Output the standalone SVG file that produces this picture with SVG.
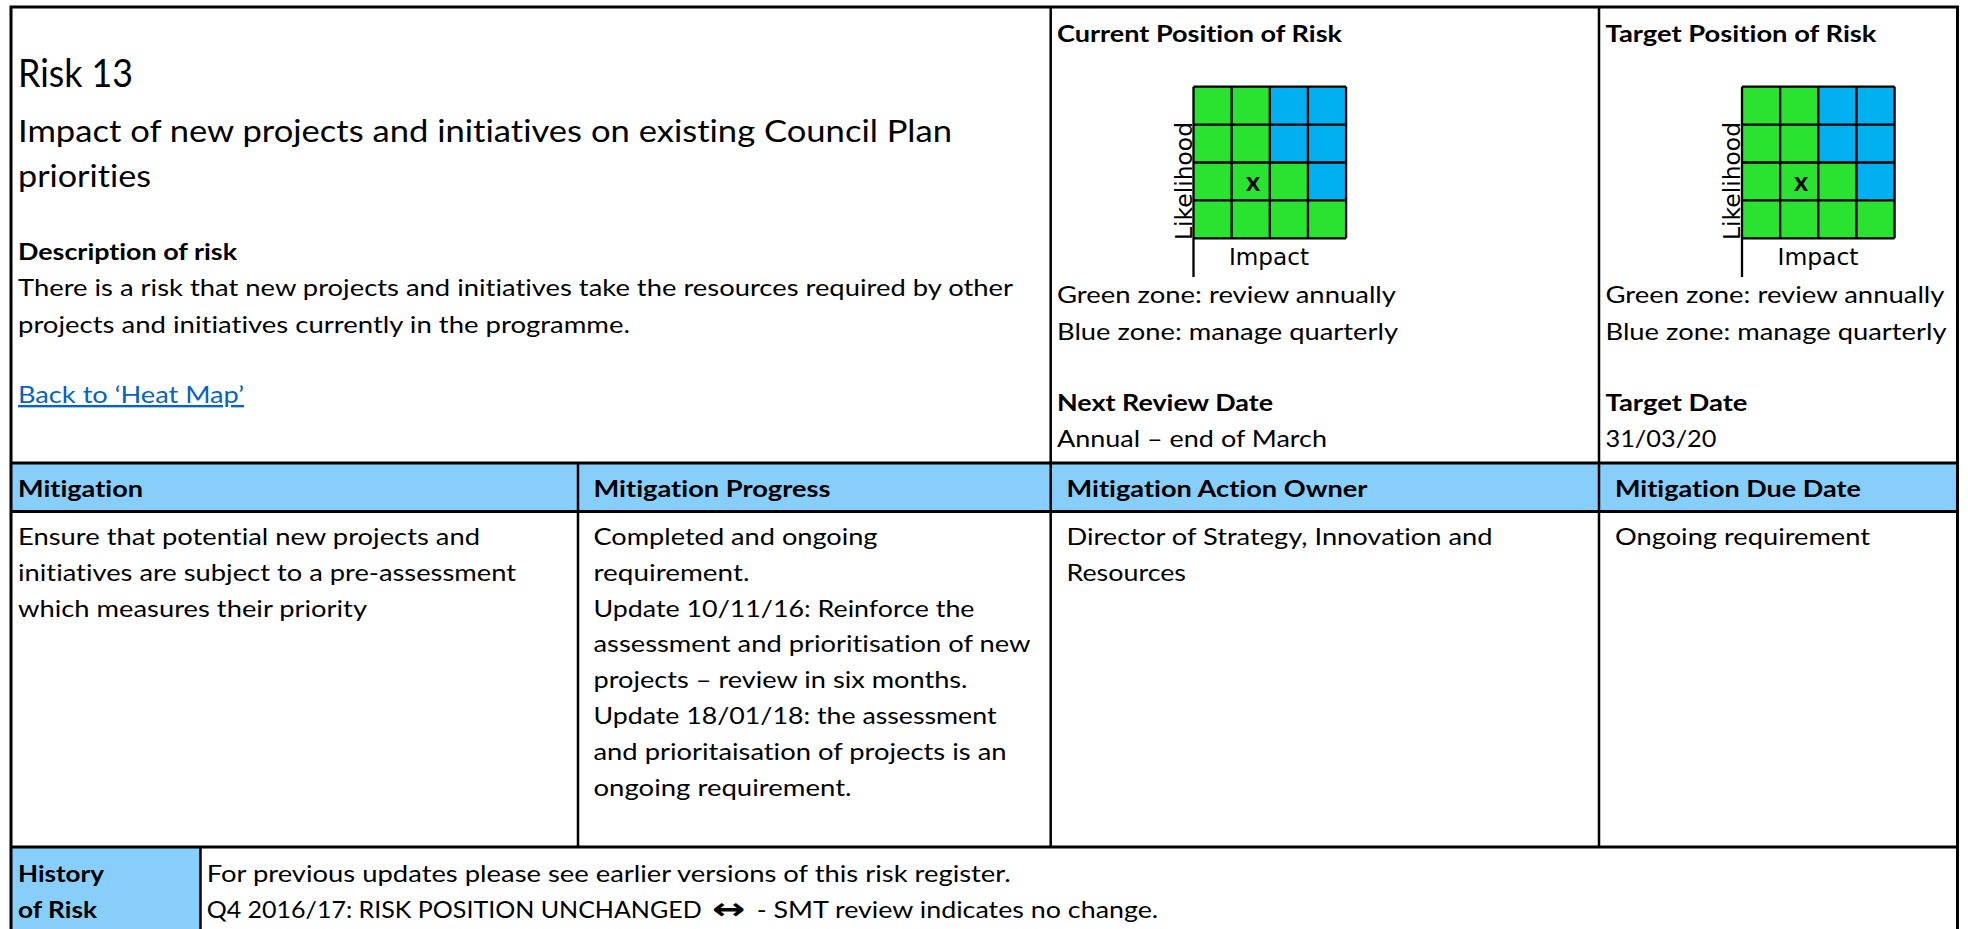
<svg xmlns="http://www.w3.org/2000/svg" width="1968" height="929" viewBox="0 0 1968 929">
<style>
.t{font-family:Lato,"Open Sans","DejaVu Sans",sans-serif;font-size:23.5px;fill:#000;font-variant-ligatures:none}
.b{font-weight:bold}
.h{font-size:31.5px}
.r{font-size:39px}
.mx{font-size:27px}
.lnk{fill:#0563C1;text-decoration:underline}
.ax{font-family:"DejaVu Sans",sans-serif;font-size:23px;fill:#000}
.arr{font-family:"DejaVu Sans",sans-serif;font-size:30px;font-weight:bold;fill:#000}
.g{fill:#29E330}
.bl{fill:#00B0F0}
.hdr{fill:#87CEFA}
.gl{stroke:#000;stroke-width:2.3;fill:none}
.bd{stroke:#000;stroke-width:3;fill:none}
.dv{stroke:#000;stroke-width:2.5;fill:none}
</style>
<rect x="0" y="0" width="1968" height="929" fill="#fff"/>

<g id="fills">
<rect class="hdr" x="11" y="463" width="1946.5" height="48.5"/>
<rect class="hdr" x="11" y="847" width="189.5" height="90"/>
</g>

<g id="title-cell">
<text class="t r" x="18" y="87.3" textLength="115" lengthAdjust="spacingAndGlyphs">Risk 13</text>
<text class="t h" x="18" y="141.7" textLength="934" lengthAdjust="spacingAndGlyphs">Impact of new projects and initiatives on existing Council Plan</text>
<text class="t h" x="18" y="186.7" textLength="133" lengthAdjust="spacingAndGlyphs">priorities</text>
<text class="t b" x="18" y="260" textLength="219" lengthAdjust="spacingAndGlyphs">Description of risk</text>
<text class="t" x="18" y="296" textLength="995" lengthAdjust="spacingAndGlyphs">There is a risk that new projects and initiatives take the resources required by other</text>
<text class="t" x="18" y="332.5" textLength="612" lengthAdjust="spacingAndGlyphs">projects and initiatives currently in the programme.</text>
<text class="t lnk" x="18" y="403" textLength="226" lengthAdjust="spacingAndGlyphs">Back to ‘Heat Map’</text>
</g>

<g id="current-position">
<text class="t b" x="1057" y="41.7" textLength="285" lengthAdjust="spacingAndGlyphs">Current Position of Risk</text>
<rect class="g" x="1193.5" y="86.7" width="152.6" height="151.6"/>
<rect class="bl" x="1269.8" y="86.7" width="76.3" height="75.8"/>
<rect class="bl" x="1307.95" y="162.5" width="38.15" height="37.9"/>
<path class="gl" d="M1193.5 86.7V238.3M1231.65 86.7V238.3M1269.8 86.7V238.3M1307.95 86.7V238.3M1346.1 86.7V238.3M1193.5 86.7H1346.1M1193.5 124.6H1346.1M1193.5 162.5H1346.1M1193.5 200.4H1346.1M1193.5 238.3H1346.1M1193.5 238.3V277"/>
<text class="t b mx" x="1253" y="191" text-anchor="middle">x</text>
<text class="ax" transform="translate(1191.5,240) rotate(-90)" x="0" y="0" textLength="118" lengthAdjust="spacingAndGlyphs">Likelihood</text>
<text class="ax" x="1229" y="265" textLength="80" lengthAdjust="spacingAndGlyphs">Impact</text>
<text class="t" x="1057" y="303" textLength="339" lengthAdjust="spacingAndGlyphs">Green zone: review annually</text>
<text class="t" x="1057" y="339.5" textLength="341" lengthAdjust="spacingAndGlyphs">Blue zone: manage quarterly</text>
<text class="t b" x="1057" y="411" textLength="216" lengthAdjust="spacingAndGlyphs">Next Review Date</text>
<text class="t" x="1057" y="446.5" textLength="270" lengthAdjust="spacingAndGlyphs">Annual – end of March</text>
</g>

<g id="target-position">
<text class="t b" x="1605.5" y="41.7" textLength="271" lengthAdjust="spacingAndGlyphs">Target Position of Risk</text>
<rect class="g" x="1742" y="86.7" width="152.6" height="151.6"/>
<rect class="bl" x="1818.3" y="86.7" width="76.3" height="75.8"/>
<rect class="bl" x="1856.45" y="162.5" width="38.15" height="37.9"/>
<path class="gl" d="M1742 86.7V238.3M1780.15 86.7V238.3M1818.3 86.7V238.3M1856.45 86.7V238.3M1894.6 86.7V238.3M1742 86.7H1894.6M1742 124.6H1894.6M1742 162.5H1894.6M1742 200.4H1894.6M1742 238.3H1894.6M1742 238.3V277"/>
<text class="t b mx" x="1801" y="191" text-anchor="middle">x</text>
<text class="ax" transform="translate(1740,240) rotate(-90)" x="0" y="0" textLength="118" lengthAdjust="spacingAndGlyphs">Likelihood</text>
<text class="ax" x="1777.5" y="265" textLength="81" lengthAdjust="spacingAndGlyphs">Impact</text>
<text class="t" x="1605.5" y="303" textLength="339" lengthAdjust="spacingAndGlyphs">Green zone: review annually</text>
<text class="t" x="1605.5" y="339.5" textLength="341" lengthAdjust="spacingAndGlyphs">Blue zone: manage quarterly</text>
<text class="t b" x="1605.5" y="411" textLength="142" lengthAdjust="spacingAndGlyphs">Target Date</text>
<text class="t" x="1605.5" y="446.5" textLength="111" lengthAdjust="spacingAndGlyphs">31/03/20</text>
</g>

<g id="mitigation">
<text class="t b" x="18" y="496.7" textLength="125" lengthAdjust="spacingAndGlyphs">Mitigation</text>
<text class="t" x="18" y="545" textLength="462" lengthAdjust="spacingAndGlyphs">Ensure that potential new projects and</text>
<text class="t" x="18" y="581" textLength="498" lengthAdjust="spacingAndGlyphs">initiatives are subject to a pre-assessment</text>
<text class="t" x="18" y="617" textLength="349" lengthAdjust="spacingAndGlyphs">which measures their priority</text>
</g>

<g id="mitigation-progress">
<text class="t b" x="593.5" y="496.7" textLength="237" lengthAdjust="spacingAndGlyphs">Mitigation Progress</text>
<text class="t" x="593.5" y="545" textLength="284" lengthAdjust="spacingAndGlyphs">Completed and ongoing</text>
<text class="t" x="593.5" y="580.8" textLength="156" lengthAdjust="spacingAndGlyphs">requirement.</text>
<text class="t" x="593.5" y="616.6" textLength="381" lengthAdjust="spacingAndGlyphs">Update 10/11/16: Reinforce the</text>
<text class="t" x="593.5" y="652.4" textLength="437" lengthAdjust="spacingAndGlyphs">assessment and prioritisation of new</text>
<text class="t" x="593.5" y="688.2" textLength="374" lengthAdjust="spacingAndGlyphs">projects – review in six months.</text>
<text class="t" x="593.5" y="724" textLength="403" lengthAdjust="spacingAndGlyphs">Update 18/01/18: the assessment</text>
<text class="t" x="593.5" y="759.8" textLength="413" lengthAdjust="spacingAndGlyphs">and prioritaisation of projects is an</text>
<text class="t" x="593.5" y="795.6" textLength="258" lengthAdjust="spacingAndGlyphs">ongoing requirement.</text>
</g>

<g id="mitigation-owner">
<text class="t b" x="1066.5" y="496.7" textLength="301" lengthAdjust="spacingAndGlyphs">Mitigation Action Owner</text>
<text class="t" x="1066.5" y="545" textLength="426" lengthAdjust="spacingAndGlyphs">Director of Strategy, Innovation and</text>
<text class="t" x="1066.5" y="581" textLength="119.5" lengthAdjust="spacingAndGlyphs">Resources</text>
</g>

<g id="mitigation-due">
<text class="t b" x="1615" y="496.7" textLength="246" lengthAdjust="spacingAndGlyphs">Mitigation Due Date</text>
<text class="t" x="1615" y="545" textLength="255" lengthAdjust="spacingAndGlyphs">Ongoing requirement</text>
</g>

<g id="history">
<text class="t b" x="18" y="882" textLength="86" lengthAdjust="spacingAndGlyphs">History</text>
<text class="t b" x="18" y="917.5" textLength="79" lengthAdjust="spacingAndGlyphs">of Risk</text>
<text class="t" x="206.7" y="882" textLength="804" lengthAdjust="spacingAndGlyphs">For previous updates please see earlier versions of this risk register.</text>
<text class="t" x="206.7" y="917.5" textLength="495" lengthAdjust="spacingAndGlyphs">Q4 2016/17: RISK POSITION UNCHANGED</text>
<text class="arr" x="711.7" y="918.5" textLength="33.3" lengthAdjust="spacingAndGlyphs">↔</text>
<text class="t" x="756.7" y="917.5" textLength="401.5" lengthAdjust="spacingAndGlyphs">- SMT review indicates no change.</text>
</g>

<g id="connectors">
<path class="bd" d="M9.5 7H1959M11 5.5V940M1957.5 5.5V940M11 463H1957.5M11 511.5H1957.5M11 847H1957.5"/>
<path class="dv" d="M1050.7 7V848M1599 7V848M578 463V848M200.5 847V940"/>
</g>
</svg>
